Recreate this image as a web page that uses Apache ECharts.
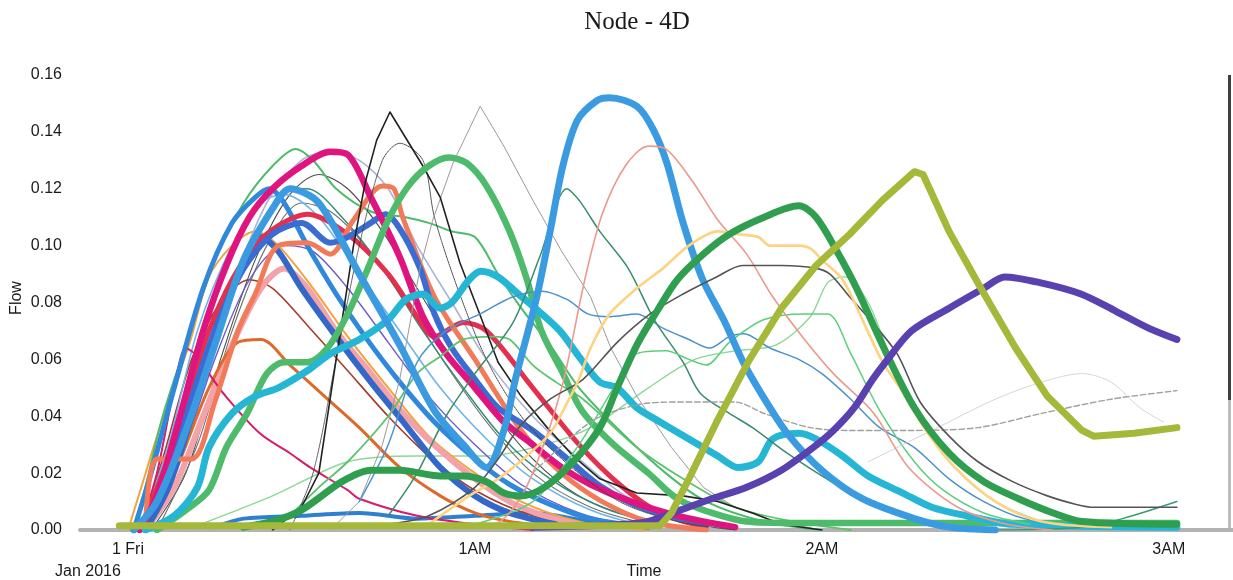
<!DOCTYPE html>
<html>
<head>
<meta charset="utf-8">
<title>Node - 4D</title>
<script src="https://cdn.jsdelivr.net/npm/echarts@6/dist/echarts.min.js"></script>
<style>
  html, body { margin: 0; padding: 0; background: #ffffff; }
  #chart { width: 1233px; height: 580px; }
</style>
</head>
<body>
<div id="chart"></div>
<script>
// Time is in minutes after midnight, Friday 1 Jan 2016; flow is per node.
const tickMinutes = [0, 60, 120, 180];
const tickLabels = ['1 Fri', '1AM', '2AM', '3AM'];
const flowTicks = [0, 0.02, 0.04, 0.06, 0.08, 0.10, 0.12, 0.14, 0.16];

// ---- early runs (peaks before 1AM) ----
const orangeThin = [[0,0],[2,0.013],[5.5,0.036],[10.7,0.066],[14,0.089],[18,0.1],[22,0.105],[26,0.1],[32,0.085],[38,0.068],[45,0.05],[52,0.033],[60,0.02],[68,0.01],[78,0.003],[90,0]];
const greenThin = [[1,0],[3,0.015],[6,0.04],[10,0.065],[15,0.095],[20,0.115],[25,0.128],[29,0.134],[32,0.13],[36,0.12],[42,0.112],[48,0.11],[52,0.108],[56,0.105],[60,0.103],[64,0.09],[68,0.078],[73,0.065],[78,0.05],[85,0.035],[93,0.02],[100,0.01],[110,0.003],[120,0]];
const lavender = [[3,0],[8,0.02],[13,0.05],[18,0.085],[24,0.115],[30,0.13],[35,0.133],[40,0.13],[45,0.12],[50,0.1],[56,0.08],[62,0.06],[70,0.04],[78,0.025],[86,0.012],[95,0.004],[105,0]];
const lightBlueThin = [[2,0],[7,0.03],[12,0.07],[18,0.1],[23,0.115],[27,0.118],[33,0.11],[40,0.09],[47,0.07],[54,0.05],[62,0.032],[70,0.018],[80,0.007],[90,0.001]];
const darkThinA = [[4,0],[10,0.02],[16,0.06],[22,0.095],[28,0.118],[33,0.125],[38,0.12],[44,0.105],[50,0.085],[56,0.065],[62,0.045],[70,0.025],[78,0.012],[88,0.004],[98,0]];
const darkThinB = [[5,0],[12,0.03],[18,0.07],[24,0.1],[30,0.115],[35,0.112],[41,0.1],[48,0.08],[55,0.058],[62,0.038],[70,0.02],[80,0.008],[90,0.002]];
const tealEarly = [[3,0],[9,0.03],[15,0.07],[21,0.1],[27,0.118],[31,0.12],[37,0.11],[44,0.092],[51,0.07],[58,0.05],[65,0.032],[73,0.018],[82,0.008],[92,0.002]];
const violetThin = [[3,0],[9,0.025],[15,0.06],[21,0.088],[27,0.1],[32,0.098],[38,0.085],[45,0.066],[52,0.047],[60,0.03],[68,0.016],[78,0.006],[88,0.001]];
const brownThin = [[2,0],[6,0.025],[11,0.06],[16,0.08],[21,0.088],[25,0.085],[31,0.072],[38,0.056],[45,0.04],[52,0.026],[60,0.014],[70,0.005],[80,0.001]];
const orangeBrown = [[2,0],[8,0.02],[14,0.05],[19,0.066],[23,0.067],[28,0.058],[34,0.047],[40,0.036],[47,0.022],[54,0.012],[60,0.006],[66,0.003],[75,0.001]];
const magentaThin = [[2,0],[5,0.02],[8,0.05],[10,0.064],[11.5,0.062],[14,0.055],[16.5,0.048],[22.8,0.034],[28,0.027],[31.5,0.022],[38,0.014],[40,0.011],[50,0.005],[60,0.002],[70,0]];
const pinkThick = [[3,0],[8,0.015],[13,0.04],[18,0.065],[23,0.085],[27,0.092],[31,0.085],[36,0.07],[42,0.055],[48,0.04],[54,0.028],[60,0.018],[66,0.01],[72,0.005],[80,0.001]];
const blueC = [[3,0],[7,0.015],[11,0.04],[15,0.07],[19,0.09],[23,0.103],[26,0.098],[30,0.085],[36,0.068],[42,0.052],[48,0.037],[54,0.022],[60,0.012],[66,0.006],[74,0.002]];
const blueD = [[1,0],[4,0.02],[8,0.05],[13,0.085],[18,0.108],[22,0.117],[24.5,0.12],[27,0.115],[31,0.1],[36,0.083],[41,0.068],[47,0.052],[53,0.038],[60,0.025],[66,0.016],[73,0.009],[80,0.004],[90,0.001]];
const redThick = [[2,0],[6,0.02],[10,0.045],[14,0.07],[18,0.088],[22,0.1],[26,0.107],[31,0.111],[38,0.104],[45,0.09],[50,0.075],[53,0.068],[58,0.073],[62,0.07],[70,0.05],[78,0.03],[85,0.016],[92,0.006],[100,0.001]];
const salmonThick = [[3,0],[5,0.025],[11,0.025],[15,0.045],[19,0.07],[22,0.083],[26,0.1],[31,0.101],[35,0.097],[39,0.109],[44,0.121],[46,0.12],[47.5,0.11],[53,0.082],[60,0.06],[68,0.035],[75,0.02],[82,0.01],[90,0.003],[100,0]];
const royalBlue = [[2,0],[6,0.015],[10,0.04],[15,0.07],[20,0.092],[25,0.104],[30,0.108],[35,0.101],[38,0.103],[42,0.108],[44.5,0.111],[47,0.106],[50.5,0.092],[53,0.076],[56,0.064],[60,0.053],[64,0.043],[70,0.035],[76,0.025],[82,0.015],[90,0.007],[100,0.002]];
const magentaThick = [[2,0],[5,0.012],[9,0.04],[13,0.07],[17,0.093],[21,0.11],[25,0.12],[30,0.128],[35,0.133],[38,0.132],[42,0.117],[47,0.096],[51,0.075],[55,0.062],[60,0.05],[65,0.038],[70,0.03],[75,0.022],[80,0.016],[87,0.01],[95,0.005],[105,0.001]];
const blueLow = [[15,0.001],[20,0.004],[30,0.005],[40,0.006],[50,0.004],[60,0.005],[70,0.006],[80,0.003],[90,0.001]];
const blackDotted = [[28,0],[32,0.02],[36,0.06],[40,0.1],[44,0.13],[47,0.136],[51,0.13],[53,0.11],[57,0.085],[62,0.06],[68,0.04],[75,0.025],[85,0.01],[95,0.003],[105,0]];
const blackThin = [[25,0],[30,0.008],[33,0.02],[36,0.06],[39,0.1],[41,0.122],[43,0.137],[45.3,0.147],[51,0.128],[54,0.117],[57.4,0.094],[61,0.075],[64,0.059],[68,0.047],[72.5,0.036],[77,0.026],[81.6,0.018],[88,0.013],[96,0.012],[102,0.01],[108,0.006],[113,0.002],[120,0]];
const greyThin = [[35,0],[40,0.01],[44,0.03],[47,0.053],[50.5,0.092],[52.7,0.109],[56.2,0.129],[60.9,0.149],[65,0.135],[70,0.116],[75,0.098],[80,0.082],[83.5,0.064],[88,0.047],[94,0.029],[99.5,0.015],[105,0.008],[112,0.003],[120,0]];

// ---- runs crossing 1AM ----
const greenMid = [[5,0],[10,0.007],[14,0.014],[17,0.029],[20.6,0.041],[24,0.055],[27,0.059],[31,0.059],[34.5,0.064],[38,0.076],[41.5,0.092],[45,0.109],[48.5,0.121],[52,0.128],[55.5,0.131],[58.6,0.129],[62,0.121],[66,0.105],[69,0.088],[71.5,0.07],[75,0.056],[78.5,0.042],[84,0.03],[90,0.02],[95,0.011],[101,0.006],[107,0.003],[115,0.0025],[181.4,0.0025]];
const cyanThick = [[3,0],[8,0.005],[12,0.015],[14,0.029],[18,0.041],[22,0.047],[26,0.05],[31,0.056],[35,0.062],[40,0.067],[45,0.074],[48,0.081],[51,0.083],[54,0.078],[56,0.08],[59,0.088],[61,0.091],[64,0.089],[67.5,0.083],[71,0.077],[74.7,0.07],[78,0.061],[81.6,0.052],[84.6,0.05],[88,0.043],[92,0.038],[97,0.032],[102,0.026],[105.5,0.022],[109,0.024],[111.5,0.032],[116,0.034],[119,0.032],[123.6,0.026],[128,0.019],[134,0.013],[139,0.008],[145,0.005],[153,0.002],[181.4,0.001]];
const greenPlateau = [[28,0.005],[33,0.015],[38,0.024],[45,0.04],[50,0.055],[54,0.061],[58,0.067],[63,0.068],[66,0.067],[70,0.058],[74,0.052],[78.7,0.046],[88,0.029],[96,0.018],[105,0.008],[115,0.003],[125,0]];
const blueBig = [[1,0],[5,0.01],[10,0.035],[15,0.065],[20,0.095],[25,0.113],[28,0.12],[33,0.115],[40,0.09],[47,0.065],[53,0.042],[58,0.03],[62,0.022],[65,0.035],[67,0.053],[70.7,0.082],[73,0.105],[75.2,0.128],[77.7,0.144],[81.1,0.151],[83.3,0.152],[88,0.149],[90.8,0.141],[93.2,0.129],[96,0.108],[99.4,0.088],[103,0.074],[106.4,0.059],[109.8,0.047],[114,0.034],[120,0.021],[127,0.011],[136,0.004],[142,0.001],[150,0]];
const blueThin = [[40,0.01],[45,0.03],[50,0.059],[55,0.07],[60.9,0.076],[66.6,0.082],[71.6,0.084],[76,0.081],[79.5,0.076],[83.3,0.075],[88,0.076],[92.5,0.071],[97,0.067],[100.6,0.064],[104,0.068],[106.5,0.069],[111,0.064],[116,0.06],[120,0.055],[125,0.046],[130,0.036],[136,0.029],[142,0.018],[148,0.01],[155,0.004],[165,0.001]];
const tealMid = [[45,0.005],[50,0.02],[55,0.04],[60,0.055],[66.6,0.073],[71.2,0.096],[75.9,0.12],[78,0.116],[81.6,0.105],[86.5,0.092],[91,0.074],[96,0.059],[99,0.048],[104,0.041],[108,0.036],[114,0.027],[120,0.019],[125,0.013],[132,0.006],[140,0.002],[150,0]];

// ---- late runs (peaks after 1AM) ----
const salmonThin = [[62,0],[66,0.006],[70,0.02],[75,0.05],[79,0.088],[82,0.111],[86,0.128],[90,0.135],[93,0.134],[97.5,0.123],[102,0.109],[107,0.097],[111.5,0.082],[117,0.067],[122,0.055],[129,0.041],[135,0.022],[143.5,0.008],[152,0.002],[160,0]];
const greyDark = [[45,0.002],[52,0.005],[60,0.015],[64,0.025],[68,0.037],[73,0.046],[78.7,0.053],[84.6,0.066],[90.3,0.076],[96,0.083],[101.8,0.089],[106.3,0.093],[113,0.093],[119,0.092],[121.4,0.09],[124.8,0.082],[128.3,0.074],[133,0.062],[137,0.045],[142,0.033],[147,0.024],[153,0.017],[159,0.012],[164,0.009],[167,0.008],[181.4,0.008]];
const yellowRun = [[52,0.002],[59,0.012],[64,0.018],[67.8,0.024],[73,0.034],[76,0.045],[78,0.053],[80,0.064],[83.3,0.076],[88,0.085],[92.5,0.092],[97,0.1],[102,0.105],[105.5,0.104],[109,0.103],[111,0.1],[116,0.1],[118,0.099],[120,0.095],[123.6,0.088],[127,0.074],[130.5,0.059],[133.5,0.05],[138,0.035],[143,0.022],[150,0.01],[158,0.003],[170,0.001]];
const lightGreenA = [[60,0.002],[70,0.01],[78,0.03],[84,0.05],[88,0.062],[93,0.063],[97,0.06],[100,0.058],[104,0.066],[110,0.074],[117,0.076],[121,0.076],[125,0.062],[130,0.042],[136,0.024],[141,0.014],[148,0.006],[156,0.002]];
const lightGreenB = [[10,0],[25,0.012],[38,0.024],[50,0.026],[62,0.026],[72,0.03],[80,0.036],[90,0.05],[98,0.06],[105,0.063],[112,0.065],[118,0.075],[121,0.087],[124,0.089],[128,0.08],[132,0.06],[137,0.04],[143,0.022],[150,0.01],[158,0.003]];
const greyDashed = [[70,0.02],[80,0.038],[88,0.044],[95,0.045],[105,0.045],[110,0.041],[118,0.036],[125,0.035],[135,0.035],[147,0.036],[158,0.041],[170,0.046],[181.4,0.049]];
const greyFaint = [[128,0.024],[140,0.036],[150,0.046],[158,0.052],[165,0.055],[170,0.052],[175,0.043],[179,0.038]];
const tealLate = [[150,0],[165,0.001],[172,0.004],[181.4,0.01]];
const greenDark = [[20,0.001],[25,0.003],[30,0.007],[37,0.017],[42,0.021],[47,0.021],[54,0.019],[58,0.019],[62,0.017],[65,0.013],[68,0.012],[72,0.015],[77,0.024],[81.6,0.036],[84.6,0.05],[88,0.065],[91.5,0.077],[95,0.088],[99.5,0.097],[104,0.104],[110,0.11],[116,0.114],[119,0.11],[122.6,0.098],[126,0.085],[130.5,0.065],[136,0.043],[142,0.027],[148,0.017],[154,0.011],[160,0.006],[165,0.003],[181.4,0.002]];
const purpleRun = [[70,0.001],[80,0.0015],[86,0.002],[90,0.003],[95.5,0.007],[101,0.011],[107,0.015],[113,0.021],[118.5,0.029],[122,0.035],[125.6,0.043],[128.8,0.053],[131,0.059],[135.5,0.07],[142,0.078],[148,0.085],[151.6,0.089],[157.7,0.087],[164.8,0.083],[170.8,0.077],[176.5,0.071],[181.4,0.067]];
const oliveRun = [[-1.5,0.0015],[92,0.0015],[94,0.006],[97,0.018],[101.8,0.038],[107.5,0.06],[113,0.078],[119,0.093],[124.8,0.104],[130.5,0.116],[136,0.126],[137.5,0.125],[142,0.105],[147.5,0.085],[153.5,0.064],[159,0.047],[165,0.035],[167,0.033],[174,0.034],[181.4,0.036]];

// Drawing order: first listed is painted first (underneath).
const runs = [
  { data: blueLow,      color: '#2f7fd0', width: 4 },
  { data: lightGreenB,  color: '#8cd896', width: 1.4 },
  { data: orangeThin,   color: '#f4a23c', width: 2 },
  { data: brownThin,    color: '#a33d2c', width: 1.6 },
  { data: lavender,     color: '#a9b3d8', width: 1.6 },
  { data: darkThinA,    color: '#4a4a4a', width: 1.1 },
  { data: darkThinB,    color: '#707070', width: 1.1 },
  { data: tealEarly,    color: '#2e8b74', width: 1.4 },
  { data: violetThin,   color: '#6a5acd', width: 1.4 },
  { data: lightBlueThin,color: '#6db5ea', width: 1.6 },
  { data: greenThin,    color: '#4cbb6a', width: 2 },
  { data: pinkThick,    color: '#f2a2a8', width: 6 },
  { data: orangeBrown,  color: '#dd6a2a', width: 3 },
  { data: magentaThin,  color: '#d81b6a', width: 2 },
  { data: blueC,        color: '#3468c8', width: 6 },
  { data: blueD,        color: '#2f88dc', width: 5 },
  { data: redThick,     color: '#e2304e', width: 5 },
  { data: salmonThick,  color: '#f27a58', width: 5 },
  { data: royalBlue,    color: '#3a6cd2', width: 6 },
  { data: magentaThick, color: '#e0147e', width: 6.5 },
  { data: greenPlateau, color: '#5cc36e', width: 1.8 },
  { data: blackDotted,  color: '#444444', width: 1, type: 'dotted' },
  { data: greyThin,     color: '#9a9a9a', width: 1, straight: true },
  { data: blackThin,    color: '#222222', width: 1.6, straight: true },
  { data: greenMid,     color: '#4dbb6b', width: 6.5 },
  { data: cyanThick,    color: '#25b6d6', width: 7 },
  { data: blueThin,     color: '#4a92cc', width: 1.5 },
  { data: tealMid,      color: '#3a8c6e', width: 1.5 },
  { data: lightGreenA,  color: '#5ccf7d', width: 1.5 },
  { data: greyDashed,   color: '#a0a0a0', width: 1.4, type: 'dashed' },
  { data: greyFaint,    color: '#d0d0d0', width: 1, type: 'dotted' },
  { data: tealLate,     color: '#3a9a70', width: 1.5 },
  { data: blueBig,      color: '#3b9be0', width: 7 },
  { data: salmonThin,   color: '#e99a8c', width: 1.6 },
  { data: greyDark,     color: '#555555', width: 1.6 },
  { data: yellowRun,    color: '#fdd382', width: 2.6 },
  { data: greenDark,    color: '#2f9e4f', width: 7 },
  { data: purpleRun,    color: '#5a41b0', width: 7 },
  { data: oliveRun,     color: '#a6b83a', width: 7, straight: true }
];

const chart = echarts.init(document.getElementById('chart'), null, { renderer: 'canvas' });

const labelFont = "'Liberation Sans', Arial, sans-serif";

chart.setOption({
  animation: false,
  backgroundColor: '#ffffff',
  grid: { left: 80, right: 0, top: 75, bottom: 50, containLabel: false, outerBoundsMode: 'none' },
  xAxis: {
    type: 'value',
    min: -8.3,
    max: 191.1,
    axisLine: { show: true, lineStyle: { color: '#b3b3b3', width: 4 } },
    axisTick: { show: false },
    splitLine: { show: false },
    axisLabel: {
      customValues: tickMinutes,
      formatter: v => tickLabels[tickMinutes.indexOf(v)] || '',
      color: '#1a1a1a',
      fontFamily: labelFont,
      fontSize: 16,
      margin: 12
    }
  },
  yAxis: {
    type: 'value',
    min: flowTicks[0],
    max: flowTicks[flowTicks.length - 1],
    interval: 0.02,
    axisLine: { show: false },
    axisTick: { show: false },
    splitLine: { show: false },
    axisLabel: {
      formatter: v => v.toFixed(2),
      color: '#1a1a1a',
      fontFamily: labelFont,
      fontSize: 16,
      margin: 18
    }
  },
  series: runs.map(r => ({
    type: 'line',
    data: r.data,
    showSymbol: false,
    symbol: 'none',
    silent: true,
    smooth: r.straight ? false : 0.3,
    lineStyle: {
      color: r.color,
      width: r.width,
      type: r.type || 'solid',
      cap: 'round',
      join: 'round'
    }
  })),
  graphic: [
    {
      type: 'text', x: 637, y: 22,
      style: { text: 'Node - 4D', fill: '#1a1a1a', font: "25px 'Liberation Serif', 'Times New Roman', serif", align: 'center', verticalAlign: 'middle' }
    },
    {
      type: 'text', x: 17, y: 298, rotation: Math.PI / 2,
      style: { text: 'Flow', fill: '#1a1a1a', font: "16px 'Liberation Sans', Arial, sans-serif", align: 'center', verticalAlign: 'middle' }
    },
    {
      type: 'text', x: 644, y: 572,
      style: { text: 'Time', fill: '#1a1a1a', font: "16px 'Liberation Sans', Arial, sans-serif", align: 'center', verticalAlign: 'middle' }
    },
    {
      type: 'text', x: 55, y: 572,
      style: { text: 'Jan 2016', fill: '#1a1a1a', font: "16px 'Liberation Sans', Arial, sans-serif", align: 'left', verticalAlign: 'middle' }
    },
    { type: 'rect', shape: { x: 1228, y: 75, width: 3, height: 325 }, style: { fill: '#3e3e3e' } },
    { type: 'rect', shape: { x: 1228, y: 400, width: 3, height: 130 }, style: { fill: '#bdbdbd' } }
  ]
});
</script>
</body>
</html>
